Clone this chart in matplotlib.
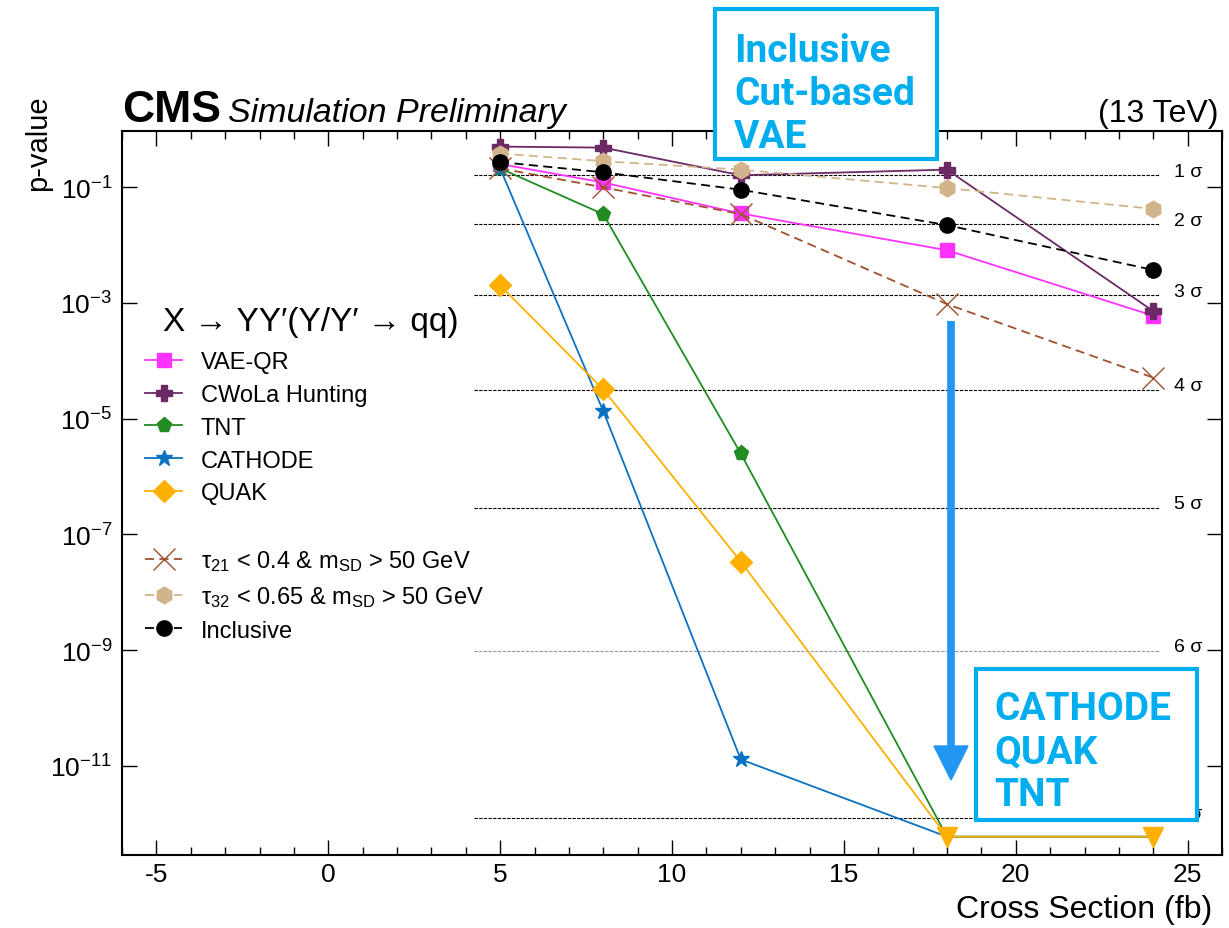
import matplotlib
matplotlib.use("Agg")
import matplotlib.pyplot as plt
import numpy as np
from matplotlib.lines import Line2D
from matplotlib.patches import Rectangle, Polygon
from matplotlib.ticker import FixedLocator, MultipleLocator, NullLocator, LogFormatterSciNotation

plt.rcParams['font.family'] = ['Liberation Sans', 'DejaVu Sans']
plt.rcParams['mathtext.fontset'] = 'custom'
plt.rcParams['mathtext.rm'] = 'Liberation Sans'
plt.rcParams['mathtext.it'] = 'Liberation Sans:italic'
plt.rcParams['mathtext.bf'] = 'Liberation Sans:bold'
plt.rcParams['mathtext.default'] = 'regular'
plt.rcParams['axes.unicode_minus'] = False

# cross sections (fb)
xsec = [5, 8, 12, 18, 24]

# p-values per method, 0 = no background-like event (drawn at the floor as a limit)
vae_qr = [0.25, 0.12, 0.035, 8.1e-3, 6.0e-4]
cwola = [0.50, 0.48, 0.16, 0.20, 7.2e-4]
tnt = [0.21, 0.034, 2.5e-6, 0, 0]
cathode = [0.21, 1.35e-5, 1.3e-11, 0, 0]
quak = [2.0e-3, 3.2e-5, 3.4e-8, 0, 0]
tau21_cut = [0.21, 0.099, 0.034, 9.5e-4, 5.1e-5]
tau32_cut = [0.38, 0.28, 0.20, 0.096, 0.042]
inclusive = [0.27, 0.18, 0.09, 0.022, 3.7e-3]

FLOOR = 6e-13

# significance reference lines
sigma_n = [1, 2, 3, 4, 5, 6, 7]
sigma_p = [1.587e-1, 2.275e-2, 1.350e-3, 3.167e-5, 2.867e-7, 9.866e-10, 1.280e-12]

W, H = 1229, 929
fig = plt.figure(figsize=(W / 100, H / 100), dpi=100)
ax = fig.add_axes([122 / W, 1 - 856 / H, 1100 / W, 724 / H])
ax.set_yscale('log')
ax.set_xlim(-6, 26)
ax.set_ylim(2.9e-13, 0.93)

for n, p in zip(sigma_n, sigma_p):
    col = '0.6' if n == 6 else 'black'
    ax.hlines(p, 4.25, 24.2, colors=col, linestyles=(0, (3, 1.2)), lw=0.8, zorder=1)
    ax.annotate('%d σ' % n, xy=(24.6, p), xytext=(0, 3), textcoords='offset points',
                fontsize=14, va='center', ha='left', zorder=1)


def draw(vals, color, marker, ms, ls='-', mew=1.0):
    vals = np.array(vals, dtype=float)
    y = np.where(vals > 0, vals, FLOOR)
    keep = [i for i, v in enumerate(vals) if v > 0]
    ax.plot(xsec, y, color=color, ls=ls, lw=1.3, marker=marker, ms=ms,
            markevery=keep, mew=mew, zorder=3)
    return Line2D([], [], color=color, ls=ls, lw=1.3, marker=marker, ms=ms, mew=mew)


styles = [
    (vae_qr, '#ff33ff', 's', 10, '-', 'VAE-QR'),
    (cwola, '#6b2a63', 'P', 11, '-', 'CWoLa Hunting'),
    (tnt, '#228b22', 'p', 11, '-', 'TNT'),
    (cathode, '#0a72c2', '*', 12, '-', 'CATHODE'),
    (quak, '#ffb000', 'D', 11, '-', 'QUAK'),
    (tau21_cut, '#a0522d', 'x', 16, (0, (5, 3)), r'τ$_{21}$ < 0.4 & m$_{SD}$ > 50 GeV'),
    (tau32_cut, '#d2b48c', 'h', 12, (0, (5, 3)), r'τ$_{32}$ < 0.65 & m$_{SD}$ > 50 GeV'),
    (inclusive, 'black', 'o', 11, (0, (5, 3)), 'Inclusive'),
]
handles, labels = [], []
for vals, c, m, ms, ls, lab in styles:
    h = draw(vals, c, m, ms, ls)
    handles.append(h)
    labels.append(lab)
    if lab == 'QUAK':
        handles.append(Line2D([], [], ls='none'))
        labels.append(' ')

# zero p-values shown as downward triangles at the floor
zero_x = [x for x, v in zip(xsec, quak) if v == 0]
ax.plot(zero_x, [FLOOR] * len(zero_x), ls='none', marker='v', ms=14, color='#ffb000', zorder=4)

leg = ax.legend(handles, labels, loc='upper left', bbox_to_anchor=(0.0209, 0.6962),
                frameon=False, fontsize=17, handlelength=1.57, handletextpad=0.8,
                labelspacing=0.46, borderpad=0, borderaxespad=0, numpoints=1)
fig.text(163 / W, 1 - 331 / H, 'X → YY′(Y/Y′ → qq)', ha='left', va='baseline', fontsize=24)

ax.yaxis.set_major_locator(FixedLocator([1e-1, 1e-3, 1e-5, 1e-7, 1e-9, 1e-11]))
ax.yaxis.set_major_formatter(LogFormatterSciNotation())
ax.yaxis.set_minor_locator(NullLocator())
ax.xaxis.set_major_locator(MultipleLocator(5))
ax.xaxis.set_minor_locator(MultipleLocator(1))
ax.tick_params(which='both', direction='in', top=True, right=True, width=1)
ax.tick_params(which='major', length=11, labelsize=19)
ax.tick_params(axis='x', which='major', pad=5)
ax.tick_params(axis='y', which='major', pad=7)
ax.tick_params(which='minor', length=5.5)
for s in ax.spines.values():
    s.set_linewidth(1.5)

fig.text(1212 / W, 1 - 918 / H, 'Cross Section (fb)', ha='right', va='baseline', fontsize=23)
fig.text(38 / W, 1 - 95 / H, 'p-value', ha='center', va='top', rotation=90, fontsize=21)
fig.text(122 / W, 1 - 122 / H, 'CMS', ha='left', va='baseline', fontsize=32, weight='bold')
fig.text(228 / W, 1 - 122 / H, 'Simulation Preliminary', ha='left', va='baseline',
         fontsize=24.5, style='italic')
fig.text(1218 / W, 1 - 122 / H, '(13 TeV)', ha='right', va='baseline', fontsize=23)

# annotation boxes
cyan = '#00aeef'
for (x0, y0, x1, y1), txt, tx, ty in [
        ((715, 10, 937, 160), 'Inclusive\nCut-based\nVAE', 734, 148),
        ((976, 670, 1197, 821), 'CATHODE\nQUAK\nTNT', 994, 806)]:
    fig.add_artist(Rectangle((x0 / W, 1 - y1 / H), (x1 - x0) / W, (y1 - y0) / H,
                             transform=fig.transFigure, facecolor='white', edgecolor=cyan,
                             lw=3, zorder=10))
    fig.text(tx / W, 1 - ty / H, txt, ha='left', va='baseline', fontsize=28, color=cyan,
             family='Roboto', weight='bold', linespacing=1.2, zorder=11)

# arrow
blue = '#2196f3'
fig.add_artist(Line2D([951 / W, 951 / W], [1 - 322 / H, 1 - 752 / H], color=blue, lw=5.5,
                      transform=fig.transFigure, zorder=9, solid_capstyle='butt'))
fig.add_artist(Polygon([(934 / W, 1 - 747 / H), (968 / W, 1 - 747 / H), (951 / W, 1 - 781 / H)],
                       closed=True, transform=fig.transFigure, color=blue, zorder=9))

fig.savefig('out.png', dpi=100)
